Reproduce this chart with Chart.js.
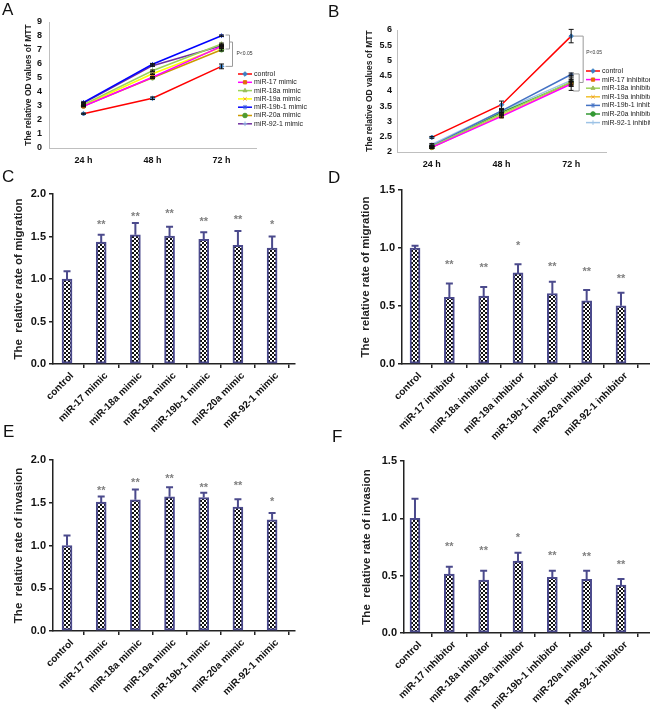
<!DOCTYPE html>
<html>
<head>
<meta charset="utf-8">
<script src="https://cdn.jsdelivr.net/npm/chart.js@4.4.1/dist/chart.umd.min.js"></script>
<style>
  body { margin:0; background:#fff; }
  #wrap { position:relative; width:650px; height:709px; overflow:hidden; font-family:"Liberation Sans", Arial, sans-serif; }
  canvas { position:absolute; }
  .tag { position:absolute; font-size:17px; line-height:17px; color:#111; }
</style>
</head>
<body>
<div id="wrap">
  <canvas id="cA" width="325" height="175" style="left:0;top:0"></canvas>
  <canvas id="cB" width="325" height="175" style="left:325px;top:0"></canvas>
  <canvas id="cC" width="325" height="280" style="left:0;top:168px"></canvas>
  <canvas id="cD" width="325" height="280" style="left:325px;top:168px"></canvas>
  <canvas id="cE" width="325" height="269" style="left:0;top:440px"></canvas>
  <canvas id="cF" width="325" height="269" style="left:325px;top:440px"></canvas>
  <div class="tag" style="left:2px;top:1px">A</div>
  <div class="tag" style="left:328px;top:3px">B</div>
  <div class="tag" style="left:2px;top:168px">C</div>
  <div class="tag" style="left:328px;top:169px">D</div>
  <div class="tag" style="left:3px;top:423px">E</div>
  <div class="tag" style="left:332px;top:428px">F</div>
</div>
<script>
// ---- data ----
const timePoints = ['24 h', '48 h', '72 h'];
const mimicNames = ['control', 'miR-17 mimic', 'miR-18a mimic', 'miR-19a mimic', 'miR-19b-1 mimic', 'miR-20a mimic', 'miR-92-1 mimic'];
const inhibNames = ['control', 'miR-17 inhibitor', 'miR-18a inhibitor', 'miR-19a inhibitor', 'miR-19b-1 inhibitor', 'miR-20a inhibitor', 'miR-92-1 inhibitor'];

// A: MTT, mimics (rows = groups, cols = 24/48/72 h)
const mttMimic = [
  [2.45, 3.55, 5.83],
  [2.98, 5.05, 7.26],
  [3.10, 5.52, 7.43],
  [3.05, 5.30, 7.20],
  [3.26, 5.98, 8.02],
  [3.00, 5.02, 7.02],
  [3.20, 5.88, 7.31]
];
const mttMimicErr = [
  [0.04, 0.09, 0.17],
  [0.04, 0.05, 0.06],
  [0.04, 0.05, 0.06],
  [0.04, 0.05, 0.06],
  [0.04, 0.05, 0.05],
  [0.04, 0.05, 0.09],
  [0.04, 0.05, 0.06]
];
// B: MTT, inhibitors
const mttInhib = [
  [2.48, 3.55, 5.80],
  [2.15, 3.17, 4.23],
  [2.18, 3.25, 4.30],
  [2.15, 3.20, 4.25],
  [2.20, 3.35, 4.54],
  [2.15, 3.30, 4.27],
  [2.25, 3.35, 4.35]
];
const mttInhibErr = [
  [0.03, 0.12, 0.22],
  [0.03, 0.05, 0.08],
  [0.03, 0.05, 0.08],
  [0.03, 0.05, 0.08],
  [0.03, 0.05, 0.05],
  [0.03, 0.05, 0.25],
  [0.03, 0.05, 0.08]
];
const ticksA = [0, 1, 2, 3, 4, 5, 6, 7, 8, 9];
const ticksB = [2, 2.5, 3, 3.5, 4, 4.5, 5, 5.5, 6];

// C: migration, mimics
const migMimic = [1.00, 1.435, 1.52, 1.505, 1.467, 1.396, 1.365];
const migMimicErr = [0.09, 0.085, 0.14, 0.11, 0.083, 0.169, 0.135];
const migMimicSig = ['', '**', '**', '**', '**', '**', '*'];
const migMimicSigY = [0, 1.67, 1.77, 1.80, 1.71, 1.73, 1.67];
// D: migration, inhibitors
const migInhib = [1.00, 0.574, 0.585, 0.785, 0.606, 0.545, 0.502];
const migInhibErr = [0.02, 0.12, 0.078, 0.075, 0.104, 0.092, 0.112];
const migInhibSig = ['', '**', '**', '*', '**', '**', '**'];
const migInhibSigY = [0, 0.88, 0.85, 1.04, 0.86, 0.82, 0.76];
// E: invasion, mimics
const invMimic = [1.00, 1.508, 1.535, 1.57, 1.56, 1.45, 1.30];
const invMimicErr = [0.117, 0.066, 0.12, 0.11, 0.057, 0.09, 0.08];
const invMimicSig = ['', '**', '**', '**', '**', '**', '*'];
const invMimicSigY = [0, 1.67, 1.77, 1.81, 1.71, 1.73, 1.55];
// F: invasion, inhibitors
const invInhib = [1.00, 0.514, 0.462, 0.628, 0.485, 0.468, 0.418];
const invInhibErr = [0.17, 0.064, 0.081, 0.072, 0.058, 0.075, 0.052];
const invInhibSig = ['', '**', '**', '*', '**', '**', '**'];
const invInhibSigY = [0, 0.776, 0.74, 0.855, 0.70, 0.69, 0.62];

const ticks20 = [0, 0.5, 1.0, 1.5, 2.0];
const ticks15 = [0, 0.5, 1.0, 1.5];

// ---- styles ----
const FONT = '"Liberation Sans", Arial, sans-serif';
Chart.defaults.font.family = FONT;

const lineColA = ['#ff0000', '#ff00ff', '#9bd35a', '#ffff00', '#0000ff', '#cc9900', '#7030a0'];
const markColA = ['#3b7fc4', '#e46c0a', '#9bbb59', '#f0a030', '#3050e0', '#4f9a2f', '#8db4e2'];
const lineColB = ['#ff0000', '#ff00ff', '#9bd35a', '#f2c12e', '#4472c4', '#339933', '#9dc3e6'];
const markColB = ['#3b7fc4', '#e46c0a', '#9bbb59', '#f0a030', '#4472c4', '#339933', '#9dc3e6'];
const markers = ['rectRot', 'rect', 'triangle', 'crossRot', 'star', 'circle', 'cross'];
const BAR_EDGE = '#4b4a8c';

// ---- plugins ----
const errPlugin = {
  id: 'errbars',
  afterDatasetsDraw(chart) {
    const o = chart.options.plugins.errbars;
    if (!o) return;
    const ctx = chart.ctx, ys = chart.scales.y;
    chart.data.datasets.forEach((ds, di) => {
      if (!ds.err) return;
      const meta = chart.getDatasetMeta(di);
      meta.data.forEach((el, i) => {
        const e = ds.err[i];
        if (!e) return;
        const d = ds.data[i];
        const v = typeof d === 'object' ? d.y : d;
        const yTop = ys.getPixelForValue(v + e);
        const yBot = o.twoSided ? ys.getPixelForValue(v - e) : el.y;
        ctx.save();
        ctx.strokeStyle = o.color;
        ctx.lineWidth = o.width;
        ctx.beginPath();
        ctx.moveTo(el.x, yBot); ctx.lineTo(el.x, yTop);
        ctx.moveTo(el.x - o.cap, yTop); ctx.lineTo(el.x + o.cap, yTop);
        if (o.twoSided) { ctx.moveTo(el.x - o.cap, yBot); ctx.lineTo(el.x + o.cap, yBot); }
        ctx.stroke();
        ctx.restore();
      });
    });
  }
};

const starPlugin = {
  id: 'stars',
  afterDatasetsDraw(chart) {
    const ds = chart.data.datasets[0];
    if (!ds.sig) return;
    const ctx = chart.ctx, ys = chart.scales.y;
    const meta = chart.getDatasetMeta(0);
    ctx.save();
    ctx.fillStyle = '#808080';
    ctx.font = 'bold 11px ' + FONT;
    ctx.textAlign = 'center';
    ctx.textBaseline = 'middle';
    meta.data.forEach((el, i) => {
      if (!ds.sig[i]) return;
      ctx.fillText(ds.sig[i], el.x, ys.getPixelForValue(ds.sigY[i]) + 3);
    });
    ctx.restore();
  }
};

const sideLegend = {
  id: 'sideLegend',
  afterDraw(chart) {
    const o = chart.options.plugins.sideLegend;
    if (!o) return;
    const ctx = chart.ctx;
    chart.data.datasets.forEach((ds, i) => {
      const y = o.y + i * o.dy;
      ctx.save();
      ctx.strokeStyle = ds.borderColor;
      ctx.lineWidth = 1.5;
      ctx.beginPath(); ctx.moveTo(o.x, y); ctx.lineTo(o.x + o.w, y); ctx.stroke();
      ctx.fillStyle = ds.pointBackgroundColor;
      ctx.strokeStyle = ds.pointBorderColor;
      ctx.lineWidth = 1;
      Chart.helpers.drawPoint(ctx, { pointStyle: ds.pointStyle, radius: 2.3, rotation: 0, borderWidth: 1 }, o.x + o.w / 2, y);
      ctx.fillStyle = '#222';
      ctx.font = o.font;
      ctx.textAlign = 'left';
      ctx.textBaseline = 'middle';
      ctx.fillText(ds.label, o.x + o.w + 2, y);
      ctx.restore();
    });
  }
};

const bracketPlugin = {
  id: 'bracket',
  afterDatasetsDraw(chart) {
    const o = chart.options.plugins.bracket;
    if (!o) return;
    const ctx = chart.ctx, xs = chart.scales.x, ys = chart.scales.y;
    const x0 = xs.getPixelForValue(o.at);
    const sTop = ys.getPixelForValue(o.small[0]);
    const sBot = ys.getPixelForValue(o.small[1]);
    const sMid = (sTop + sBot) / 2;
    const bEnd = ys.getPixelForValue(o.big);
    ctx.save();
    ctx.strokeStyle = '#9a9a9a';
    ctx.lineWidth = 1;
    ctx.beginPath();
    ctx.moveTo(x0 + o.sx0, sTop); ctx.lineTo(x0 + o.sx1, sTop);
    ctx.lineTo(x0 + o.sx1, sBot); ctx.lineTo(x0 + o.sx0, sBot);
    ctx.moveTo(x0 + o.sx1, sMid); ctx.lineTo(x0 + o.bx, sMid);
    ctx.lineTo(x0 + o.bx, bEnd); ctx.lineTo(x0 + o.bx0, bEnd);
    ctx.stroke();
    ctx.fillStyle = '#333';
    ctx.font = '5px ' + FONT;
    ctx.textBaseline = 'middle';
    ctx.fillText('P<0.05', x0 + o.tx, ys.getPixelForValue(o.textAt));
    ctx.restore();
  }
};

function fixedTicks(list) {
  return s => { s.ticks = list.map(v => ({ value: v })); };
}

// ---- line charts (A, B) ----
function lineChart(id, c) {
  const datasets = c.names.map((n, i) => ({
    label: n,
    data: c.values[i],
    err: c.errs[i],
    borderColor: c.lineColors[i],
    backgroundColor: c.markColors[i],
    pointBackgroundColor: c.markColors[i],
    pointBorderColor: c.markColors[i],
    pointStyle: markers[i],
    pointRadius: 2.3,
    pointBorderWidth: 1,
    borderWidth: 1.5,
    tension: 0
  }));
  return new Chart(document.getElementById(id), {
    type: 'line',
    data: { labels: timePoints, datasets },
    options: {
      responsive: false, animation: false, devicePixelRatio: 1,
      layout: { padding: c.pad },
      plugins: {
        legend: { display: false }, tooltip: { enabled: false },
        errbars: { color: '#111', width: 1, cap: 2.5, twoSided: true },
        sideLegend: c.legend,
        bracket: c.bracket
      },
      scales: {
        x: {
          offset: true,
          grid: { display: false, drawTicks: false },
          border: { color: '#bfbfbf' },
          ticks: { font: { size: 9, weight: 'bold' }, color: '#111', padding: 7 },
          afterFit(s) { s.height = c.xH; }
        },
        y: {
          min: c.yTicks[0], max: c.yTicks[c.yTicks.length - 1],
          grid: { display: false, drawTicks: false },
          border: { color: '#bfbfbf' },
          afterBuildTicks: fixedTicks(c.yTicks),
          ticks: { font: { size: 9, weight: 'bold' }, color: '#111', padding: c.tickPad,
                   callback: v => String(v) },
          title: { display: true, text: 'The relative OD values of MTT', color: '#222',
                   font: { size: 8.5, weight: 'bold' }, padding: { top: c.titlePad, bottom: 0 } },
          afterFit(s) { s.width = c.yW; }
        }
      }
    },
    plugins: [errPlugin, sideLegend, bracketPlugin]
  });
}

lineChart('cA', {
  names: mimicNames, values: mttMimic, errs: mttMimicErr,
  lineColors: lineColA, markColors: markColA, yTicks: ticksA,
  pad: { left: 0, top: 22, right: 69, bottom: 0 }, yW: 49, xH: 27, titlePad: 24, tickPad: 7,
  legend: { x: 238, y: 74, dy: 8.3, w: 14, font: '7px ' + FONT },
  bracket: { at: 2, small: [8.07, 7.07], big: 5.83, sx0: 4, sx1: 8, bx: 11, bx0: 4, tx: 15, textAt: 6.71 }
});

lineChart('cB', {
  names: inhibNames, values: mttInhib, errs: mttInhibErr,
  lineColors: lineColB, markColors: markColB, yTicks: ticksB,
  pad: { left: 0, top: 30, right: 44, bottom: 0 }, yW: 72, xH: 23, titlePad: 40, tickPad: 5,
  legend: { x: 261, y: 71, dy: 8.6, w: 14, font: '7px ' + FONT },
  bracket: { at: 2, small: [4.56, 4.0], big: 5.80, sx0: 2, sx1: 8, bx: 12, bx0: 2, tx: 15, textAt: 5.25 }
});

// ---- bar charts (C-F) ----
function checker(canvas) {
  const pc = document.createElement('canvas');
  pc.width = 4; pc.height = 4;
  const g = pc.getContext('2d');
  g.fillStyle = '#fff'; g.fillRect(0, 0, 4, 4);
  g.fillStyle = '#111'; g.fillRect(0, 0, 2, 2); g.fillRect(2, 2, 2, 2);
  return canvas.getContext('2d').createPattern(pc, 'repeat');
}

function barChart(id, c) {
  const cv = document.getElementById(id);
  return new Chart(cv, {
    type: 'bar',
    data: {
      datasets: [{
        data: c.names.map((n, i) => ({ x: i, y: c.values[i] })),
        err: c.errs, sig: c.sig, sigY: c.sigY,
        backgroundColor: checker(cv),
        borderColor: BAR_EDGE, borderWidth: 2, borderSkipped: false,
        barThickness: 10
      }]
    },
    options: {
      responsive: false, animation: false, devicePixelRatio: 1,
      layout: { padding: c.pad },
      plugins: {
        legend: { display: false }, tooltip: { enabled: false },
        errbars: { color: BAR_EDGE, width: 2, cap: 3.5, twoSided: false }
      },
      scales: {
        x: {
          type: 'linear', min: c.xMin, max: c.xMax, offset: false,
          afterBuildTicks: fixedTicks(c.names.map((n, i) => i)),
          grid: { display: true, drawOnChartArea: false, drawTicks: true, tickLength: 4, color: '#222', lineWidth: 1.5 },
          border: { color: '#222', width: 1.5 },
          ticks: { autoSkip: false, minRotation: 45, maxRotation: 45, padding: 2, labelOffset: 5,
                   font: { size: 10, weight: 'bold' }, color: '#111',
                   callback: v => c.names[v] },
          afterFit(s) { s.height = c.xH; }
        },
        y: {
          min: 0, max: c.yTicks[c.yTicks.length - 1],
          afterBuildTicks: fixedTicks(c.yTicks),
          grid: { display: true, drawOnChartArea: false, drawTicks: true, tickLength: 4, color: '#222', lineWidth: 1.5 },
          border: { color: '#222', width: 1.5 },
          ticks: { font: { size: 11, weight: 'bold' }, color: '#111', padding: 3,
                   callback: v => v.toFixed(1) },
          title: { display: true, text: c.title, color: '#222',
                   font: { size: 11.5, weight: 'bold' }, padding: { top: c.titlePad, bottom: 0 } },
          afterFit(s) { s.width = c.yW; }
        }
      }
    },
    plugins: [errPlugin, starPlugin]
  });
}

barChart('cC', {
  names: mimicNames, values: migMimic, errs: migMimicErr, sig: migMimicSig, sigY: migMimicSigY,
  yTicks: ticks20, title: 'The  relative rate of migration',
  pad: { left: 0, top: 26, right: 30, bottom: 0 }, yW: 53, xH: 84, titlePad: 12,
  xMin: -0.41, xMax: 6.67
});

barChart('cD', {
  names: inhibNames, values: migInhib, errs: migInhibErr, sig: migInhibSig, sigY: migInhibSigY,
  yTicks: ticks15, title: 'The  relative rate of migration',
  pad: { left: 0, top: 22, right: 0, bottom: 0 }, yW: 77, xH: 84, titlePad: 34,
  xMin: -0.38, xMax: 6.845
});

barChart('cE', {
  names: mimicNames, values: invMimic, errs: invMimicErr, sig: invMimicSig, sigY: invMimicSigY,
  yTicks: ticks20, title: 'The  relative rate of invasion',
  pad: { left: 0, top: 20, right: 30, bottom: 0 }, yW: 53, xH: 78, titlePad: 12,
  xMin: -0.41, xMax: 6.67
});

barChart('cF', {
  names: inhibNames, values: invInhib, errs: invInhibErr, sig: invInhibSig, sigY: invInhibSigY,
  yTicks: ticks15, title: 'The  relative rate of invasion',
  pad: { left: 0, top: 21, right: 0, bottom: 0 }, yW: 79, xH: 76, titlePad: 35,
  xMin: -0.32, xMax: 6.845
});
</script>
</body>
</html>
